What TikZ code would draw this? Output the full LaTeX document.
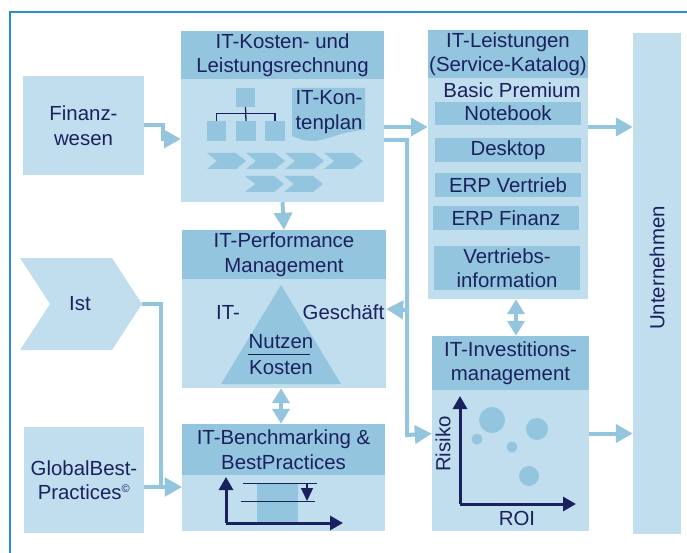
\documentclass[tikz,border=0pt]{standalone}
\usepackage{fontspec}
\setmainfont{Liberation Sans}
\usetikzlibrary{arrows.meta}
\definecolor{lightblue}{RGB}{193,222,238}
\definecolor{midblue}{RGB}{148,197,223}
\definecolor{navy}{RGB}{27,33,94}
\definecolor{framecol}{RGB}{42,143,198}

\begin{document}
\begin{tikzpicture}[x=1pt,y=-1pt,
    every node/.style={font=\fontsize{20.4}{24.5}\selectfont, text=navy, align=center, inner sep=0pt},
    lbox/.style 2 args={fill=lightblue, minimum width=#1pt, minimum height=#2pt},
    hbox/.style 2 args={fill=midblue, minimum width=#1pt, minimum height=#2pt},
    conn/.style={draw=midblue, line width=4pt, -{Triangle[length=17pt,width=18pt]}},
    dconn/.style={draw=midblue, line width=4pt, {Triangle[length=15pt,width=17pt]}-{Triangle[length=15pt,width=17pt]}},
    axis/.style={draw=navy, line width=3pt, -{Triangle[length=13pt,width=14pt]}}]
    \useasboundingbox (0,0) rectangle (687,553);
    \draw[framecol, line width=2.2pt] (10,553) -- (10,12) -- (687,12);

    \node[lbox={121}{99}] (fin) at (83.5,125.5) {Finanz-\\wesen};
    \path[fill=lightblue] (20,258) -- (112,258) -- (142,304) -- (112,350) -- (20,350) -- (50,304) -- cycle;
    \node (ist) at (80,304) {Ist};
    \coordinate (isttip) at (142,304);
    \node[lbox={120}{106}] (gbp) at (84,480) {GlobalBest-\\Practices\textsuperscript{\fontsize{11}{11}\selectfont ©}};

    \node[lbox={203}{171}] (klr) at (282.5,116.5) {};
    \node[hbox={203}{48}, anchor=north] (klrhead) at (klr.north) {IT-Kosten- und\\Leistungsrechnung};
    \node[hbox={19}{19}] (org0) at (245.5,97.5) {};
    \node[hbox={19}{20}] (org1) at (216.5,131) {};
    \node[hbox={20}{20}] (org2) at (246,131) {};
    \node[hbox={20}{20}] (org3) at (275,131) {};
    \draw[navy, line width=1.3pt] (org1.north) -- ++(0,-7) -| (org3.north);
    \draw[navy, line width=1.3pt] (org0.south) -- (org2.north);
    \path[fill=midblue] (292,88) -- (365,88) -- (365,130) .. controls (340,131) and (325,142) .. (310,141) .. controls (302,140) .. (292,136) -- cycle;
    \node (kplan) at (329,112) {IT-Kon-\\tenplan};
    \foreach \cx/\cy in {207/153, 246/153, 285/153, 324/153, 245/176, 284/176}
      \path[fill=midblue] (\cx,\cy) -- ++(29,0) -- ++(10,8) -- ++(-10,8) -- ++(-29,0) -- ++(10,-8) -- cycle;

    \node[lbox={160}{269}] (leis) at (508,164.5) {};
    \node[hbox={160}{48}, anchor=north] (leishead) at (leis.north) {IT-Leistungen\\(Service-Katalog)};
    \node (basic) at (512,90) {Basic Premium};
    \node[hbox={146}{23}] (notebook) at (508,113.5) {Notebook};
    \node[hbox={146}{24}] (desktop) at (508,150) {Desktop};
    \node[hbox={146}{24}] (erpv) at (508,185) {ERP Vertrieb};
    \node[hbox={146}{24}] (erpf) at (506,218) {ERP Finanz};
    \node[hbox={146}{44}] (vinfo) at (507,268) {Vertriebs-\\information};

    \node[lbox={48}{501}] (unt) at (657,283.5) {};
    \node[rotate=90] (unttext) at (657,268) {Unternehmen};

    \node[lbox={204}{158}] (perf) at (284,309) {};
    \node[hbox={204}{49}, anchor=north] (perfhead) at (perf.north) {IT-Performance\\Management};
    \path[fill=midblue] (281,285) -- (341,384) -- (221,384) -- cycle;
    \node (itl) at (228,312) {IT-};
    \node (gesch) at (343.5,312) {Geschäft};
    \node (nutzen) at (281,342) {Nutzen};
    \node (kosten) at (281,368) {Kosten};
    \draw[navy, line width=1pt] (248,354) -- (310,354);

    \node[lbox={203}{107}] (bench) at (283.5,477.5) {};
    \node[hbox={203}{51}, anchor=north] (benchhead) at (bench.north) {IT-Benchmarking \&\\BestPractices};
    \path[fill=midblue] (257,483) rectangle (298,523);
    \draw[navy, line width=1pt] (243,483) -- (317,483);
    \draw[navy, line width=1pt] (241,501) -- (315,501);
    \draw[navy, line width=1.3pt, -{Triangle[length=13pt,width=12pt]}] (307,483) -- (307,501);
    \draw[axis] (226,523) -- (226,477);
    \draw[axis] (226,523) -- (343,523);

    \node[lbox={157}{195}] (inv) at (510.5,433.5) {};
    \node[hbox={157}{54}, anchor=north] (invhead) at (inv.north) {IT-Investitions-\\management};
    \foreach \px/\py/\r in {492/420/13, 537/429/11, 477/439/5.5, 512/447/5.5, 529/476/10}
      \fill[midblue] (\px,\py) circle (\r);
    \draw[axis] (460,504) -- (460,396);
    \draw[axis] (460,504) -- (576,504);
    \node[rotate=90] (risiko) at (443,444) {Risiko};
    \node (roi) at (517,518) {ROI};

    \coordinate (leisout) at ([yshift=37.5pt]leis.east);
    \coordinate (benchin) at ([yshift=-9.5pt]bench.west);
    \draw[conn] (fin.east) -- ++(19,0) |- ([yshift=-22.5pt]klr.west);
    \draw[conn] ([yshift=-10.5pt]klr.east) -- ([yshift=37.5pt]leis.west);
    \draw[conn] ([yshift=-23.5pt]klr.east) -| ++(23,295) -- (inv.west);
    \draw[conn] (407,310) -- (perf.east);
    \draw[conn] (klr.south) -- (perf.north);
    \draw[conn] (leisout) -- (leisout -| unt.west);
    \draw[conn] (inv.east) -- (inv.east -| unt.west);
    \draw[dconn] (leis.south -| 516,0) -- (inv.north -| 516,0);
    \draw[dconn] (perf.south -| 281,0) -- (bench.north -| 281,0);
    \draw[conn] (isttip) -- ++(19,0) |- (benchin);
    \draw[conn] (gbp.east |- benchin) -- (benchin);
\end{tikzpicture}
\end{document}
